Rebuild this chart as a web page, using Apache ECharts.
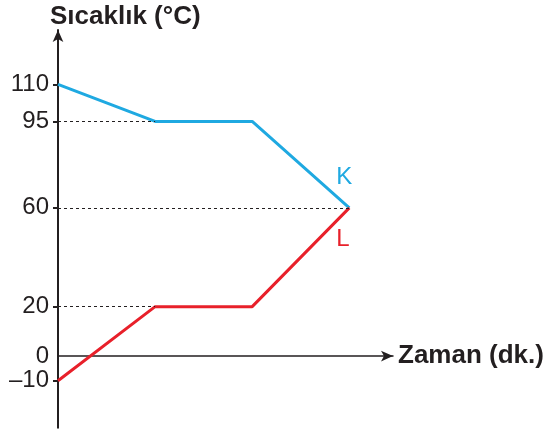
<!DOCTYPE html>
<html>
<head>
<meta charset="utf-8">
<script src="https://cdn.jsdelivr.net/npm/echarts@6/dist/echarts.min.js"></script>
<style>
  html, body { margin: 0; padding: 0; background: #fff; }
  #chart { width: 546px; height: 431px; }
</style>
</head>
<body>
<div id="chart"></div>
<script>
// Time steps (arbitrary units) and temperatures of substances K and L
const times = [0, 1, 2, 3];
const tempK = [110, 95, 95, 60];
const tempL = [-10, 20, 20, 60];
const yTickValues = [110, 95, 60, 20, 0, -10];
// Guide lines from the temperature axis to the curve corners: [value, time reached]
const guides = [[95, 1], [60, 3], [20, 1]];

const FONT = 'Liberation Sans, Arial, Helvetica, sans-serif';
const INK = '#231f20';
const BLUE = '#1fa9e1';
const RED = '#e8202a';

const chart = echarts.init(document.getElementById('chart'));

chart.setOption({
  animation: false,
  grid: { left: 58, right: 153, top: 30, bottom: 3.3 },
  xAxis: {
    type: 'value', min: 0, max: 3.45,
    axisLine: { show: true, onZero: true, symbol: ['none', 'arrow'], symbolSize: [8, 12],
      lineStyle: { color: INK, width: 1.5 } },
    axisTick: { show: false }, axisLabel: { show: false }, splitLine: { show: false }
  },
  yAxis: {
    type: 'value', min: -29, max: 132,
    axisLine: { show: true, onZero: true, symbol: ['none', 'arrow'], symbolSize: [8, 12],
      lineStyle: { color: INK, width: 2 } },
    axisTick: { show: true, length: 5, customValues: yTickValues.filter(v => v !== 0),
      lineStyle: { color: INK, width: 2 } },
    axisLabel: { show: true, customValues: yTickValues, margin: 9,
      color: INK, fontFamily: FONT, fontSize: 24,
      formatter: v => (v < 0 ? '\u2013' + Math.abs(v) : String(v)) },
    splitLine: { show: false }
  },
  series: [
    {
      type: 'line', name: 'guides', data: [], silent: true,
      markLine: {
        symbol: ['none', 'none'], silent: true, label: { show: false },
        lineStyle: { color: INK, type: [3, 3], width: 1 },
        data: guides.map(([v, t]) => [{ coord: [0, v] }, { coord: [t, v] }])
      }
    },
    {
      type: 'line', name: 'K', data: times.map((t, i) => [t, tempK[i]]),
      showSymbol: false, lineStyle: { color: BLUE, width: 3 }, itemStyle: { color: BLUE },
      endLabel: { show: true, formatter: 'K', color: BLUE, fontFamily: FONT, fontSize: 24,
        offset: [-21, -30] }
    },
    {
      type: 'line', name: 'L', data: times.map((t, i) => [t, tempL[i]]),
      showSymbol: false, lineStyle: { color: RED, width: 3 }, itemStyle: { color: RED },
      endLabel: { show: true, formatter: 'L', color: RED, fontFamily: FONT, fontSize: 24,
        offset: [-21, 32] }
    }
  ],
  graphic: [
    { type: 'text', left: 50, top: 4,
      style: { text: 'Sıcaklık (°C)', fill: INK, font: 'bold 26px ' + FONT } },
    { type: 'text', left: 398, top: 343,
      style: { text: 'Zaman (dk.)', fill: INK, font: 'bold 26px ' + FONT } }
  ]
});
</script>
</body>
</html>
